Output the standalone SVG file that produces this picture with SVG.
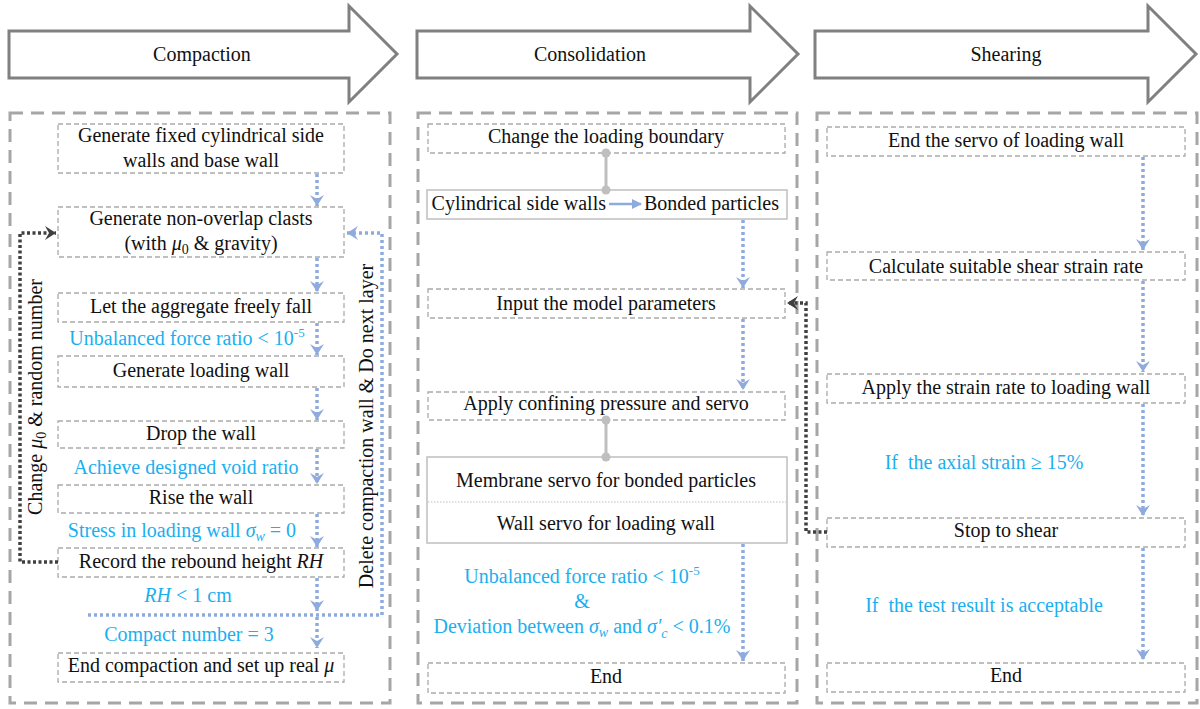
<svg xmlns="http://www.w3.org/2000/svg" width="1200" height="709" viewBox="0 0 1200 709" font-family="'Liberation Serif', 'Times New Roman', 'DejaVu Serif', serif">
<style>
.t{font-family:'Liberation Serif','Times New Roman','DejaVu Serif',serif;font-size:20px;fill:#111;text-anchor:middle}
.b{fill:#1AAFEF}
.i{font-style:italic}
.node{fill:#fff;stroke:#AAAAAA;stroke-width:1.3;stroke-dasharray:5 3}
.sbox{fill:#fff;stroke:#BFBFBF;stroke-width:1.5}
.panel{fill:none;stroke:#A6A6A6;stroke-width:3;stroke-dasharray:13 8}
.hdr{fill:#fff;stroke:#808080;stroke-width:3;stroke-linejoin:miter}
.ba{fill:none;stroke:#8FAADC;stroke-width:3.5;stroke-dasharray:3 3;marker-end:url(#bh)}
.da{fill:none;stroke:#404040;stroke-width:3.5;stroke-dasharray:3 2.5;marker-end:url(#dh)}
.gc{stroke:#BFBFBF;stroke-width:3}
.gd{fill:#BFBFBF}
</style>
<defs>
<marker id="bh" markerUnits="userSpaceOnUse" markerWidth="12" markerHeight="14" refX="11" refY="7" orient="auto" viewBox="0 0 12 14">
<path d="M0,0 L11,7 L0,14 L4,7 Z" fill="#8FAADC"/>
</marker>
<marker id="dh" markerUnits="userSpaceOnUse" markerWidth="12" markerHeight="14" refX="11" refY="7" orient="auto" viewBox="0 0 12 14">
<path d="M0,0 L11,7 L0,14 L4,7 Z" fill="#404040"/>
</marker>
<marker id="sh" markerUnits="userSpaceOnUse" markerWidth="10" markerHeight="10" refX="9" refY="5" orient="auto" viewBox="0 0 10 10">
<path d="M0,0 L10,5 L0,10 Z" fill="#8FAADC"/>
</marker>
</defs>

<!-- headers -->
<g id="hdr-compaction">
<polygon class="hdr" points="9,31 349,31 349,6 397,54 349,102 349,78 9,78"/>
<text class="t" x="202" y="61">Compaction</text>
</g>
<g id="hdr-consolidation">
<polygon class="hdr" points="417,31 750,31 750,6 798,54 750,102 750,78 417,78"/>
<text class="t" x="590" y="61">Consolidation</text>
</g>
<g id="hdr-shearing">
<polygon class="hdr" points="815,31 1148,31 1148,6 1196,54 1148,102 1148,78 815,78"/>
<text class="t" x="1006" y="61">Shearing</text>
</g>

<!-- panels -->
<rect id="panel-compaction" class="panel" x="10" y="113" width="380" height="590"/>
<rect id="panel-consolidation" class="panel" x="418" y="113" width="379" height="590"/>
<rect id="panel-shearing" class="panel" x="817" y="113" width="380" height="590"/>

<!-- compaction nodes -->
<g id="n-gen-walls">
<rect class="node" x="58" y="124" width="286" height="49"/>
<text class="t" x="201" y="142">Generate fixed cylindrical side</text>
<text class="t" x="201" y="167">walls and base wall</text>
</g>
<g id="n-gen-clasts">
<rect class="node" x="58" y="207" width="286" height="50"/>
<text class="t" x="201" y="225">Generate non-overlap clasts</text>
<text class="t" x="201" y="250">(with <tspan class="i">μ</tspan><tspan font-size="14" dy="4">0</tspan><tspan dy="-4"> &amp; gravity)</tspan></text>
</g>
<g id="n-fall">
<rect class="node" x="58" y="293" width="286" height="29"/>
<text class="t" x="201" y="313">Let the aggregate freely fall</text>
</g>
<text id="l-unbal1" class="t b" x="187" y="345">Unbalanced force ratio &lt; 10<tspan font-size="13" dy="-8">-5</tspan></text>
<g id="n-gen-loadwall">
<rect class="node" x="58" y="356" width="286" height="31"/>
<text class="t" x="201" y="377">Generate loading wall</text>
</g>
<g id="n-drop">
<rect class="node" x="58" y="421" width="286" height="27"/>
<text class="t" x="201" y="440">Drop the wall</text>
</g>
<text id="l-void" class="t b" x="186" y="474">Achieve designed void ratio</text>
<g id="n-rise">
<rect class="node" x="58" y="485" width="286" height="28"/>
<text class="t" x="201" y="504">Rise the wall</text>
</g>
<text id="l-stress" class="t b" x="182" y="537">Stress in loading wall <tspan class="i">σ</tspan><tspan class="i" font-size="14" dy="4">w</tspan><tspan dy="-4"> = 0</tspan></text>
<g id="n-record">
<rect class="node" x="58" y="548" width="286" height="29"/>
<text class="t" x="201" y="568">Record the rebound height <tspan class="i">RH</tspan></text>
</g>
<text id="l-rh" class="t b" x="188" y="602"><tspan class="i">RH</tspan> &lt; 1 cm</text>
<text id="l-compact" class="t b" x="189" y="641">Compact number = 3</text>
<g id="n-end-compaction">
<rect class="node" x="58" y="653" width="286" height="29"/>
<text class="t" x="201" y="672">End compaction and set up real <tspan class="i">μ</tspan></text>
</g>
<text id="l-change" class="t" transform="translate(42,397) rotate(-90)" x="0" y="0">Change <tspan class="i">μ</tspan><tspan font-size="14" dy="4">0</tspan><tspan dy="-4"> &amp; random number</tspan></text>
<text id="l-delete" class="t" transform="translate(373,426) rotate(-90)" x="0" y="0">Delete compaction wall &amp; Do next layer</text>

<!-- consolidation nodes -->
<g id="n-change-boundary">
<rect class="node" x="428" y="124" width="357" height="29"/>
<text class="t" x="606" y="143">Change the loading boundary</text>
</g>
<g id="n-cyl-bonded">
<rect class="sbox" x="427" y="190" width="360" height="29"/>
<text class="t" x="606" y="210" style="text-anchor:end">Cylindrical side walls</text>
<text class="t" x="644" y="210" style="text-anchor:start">Bonded particles</text>
</g>
<g id="n-input">
<rect class="node" x="428" y="289" width="357" height="29"/>
<text class="t" x="606" y="310">Input the model parameters</text>
</g>
<g id="n-apply-confining">
<rect class="node" x="428" y="392" width="357" height="28"/>
<text class="t" x="606" y="410">Apply confining pressure and servo</text>
</g>
<g id="n-servo">
<rect class="sbox" x="427" y="457" width="360" height="86"/>
<line x1="428" y1="502" x2="786" y2="502" stroke="#BFBFBF" stroke-width="1" stroke-dasharray="1.5 1.5"/>
<text class="t" x="606" y="487">Membrane servo for bonded particles</text>
<text class="t" x="606" y="530">Wall servo for loading wall</text>
</g>
<g id="l-consol-cond">
<text class="t b" x="582" y="583">Unbalanced force ratio &lt; 10<tspan font-size="13" dy="-8">-5</tspan></text>
<text class="t b" x="582" y="608">&amp;</text>
<text class="t b" x="582" y="633">Deviation between <tspan class="i">σ</tspan><tspan class="i" font-size="14" dy="4">w</tspan><tspan dy="-4"> and </tspan><tspan class="i">σ′</tspan><tspan class="i" font-size="14" dy="5">c</tspan><tspan dy="-5"> &lt; 0.1%</tspan></text>
</g>
<g id="n-end-consol">
<rect class="node" x="428" y="663" width="357" height="30"/>
<text class="t" x="606" y="683">End</text>
</g>

<!-- shearing nodes -->
<g id="n-end-servo">
<rect class="node" x="827" y="127" width="358" height="29"/>
<text class="t" x="1006" y="147">End the servo of loading wall</text>
</g>
<g id="n-calc">
<rect class="node" x="827" y="252" width="358" height="28"/>
<text class="t" x="1006" y="273">Calculate suitable shear strain rate</text>
</g>
<g id="n-apply-strain">
<rect class="node" x="827" y="374" width="358" height="29"/>
<text class="t" x="1006" y="394">Apply the strain rate to loading wall</text>
</g>
<text id="l-axial" class="t b" x="984" y="469" xml:space="preserve">If  the axial strain ≥ 15%</text>
<g id="n-stop">
<rect class="node" x="827" y="518" width="358" height="29"/>
<text class="t" x="1006" y="537">Stop to shear</text>
</g>
<text id="l-accept" class="t b" x="984" y="612" xml:space="preserve">If  the test result is acceptable</text>
<g id="n-end-shear">
<rect class="node" x="827" y="663" width="358" height="29"/>
<text class="t" x="1006" y="682">End</text>
</g>

<!-- connectors -->
<g id="connectors">
<line class="ba" x1="317" y1="174" x2="317" y2="206"/>
<line class="ba" x1="317" y1="258" x2="317" y2="292"/>
<line class="ba" x1="317" y1="323" x2="317" y2="355"/>
<line class="ba" x1="317" y1="388" x2="317" y2="420"/>
<line class="ba" x1="317" y1="449" x2="317" y2="484"/>
<line class="ba" x1="317" y1="514" x2="317" y2="547"/>
<line class="ba" x1="317" y1="578" x2="317" y2="611"/>
<line class="ba" x1="317" y1="617" x2="317" y2="648"/>
<path class="ba" d="M88,615 H382 V233 H347"/>
<path class="da" d="M58,562 H20 V233 H56"/>

<line class="gc" x1="606" y1="153" x2="606" y2="190"/>
<circle class="gd" cx="606" cy="153" r="4.5"/>
<circle class="gd" cx="606" cy="190" r="4.5"/>
<line class="gc" x1="606" y1="420" x2="606" y2="457"/>
<circle class="gd" cx="606" cy="420" r="4.5"/>
<circle class="gd" cx="606" cy="457" r="4.5"/>
<line x1="609" y1="204" x2="641" y2="204" stroke="#8FAADC" stroke-width="2.5" marker-end="url(#sh)"/>
<line class="ba" x1="743" y1="220" x2="743" y2="288"/>
<line class="ba" x1="743" y1="319" x2="743" y2="390"/>
<line class="ba" x1="743" y1="544" x2="743" y2="661"/>
<path class="da" d="M827,532 H806 V303 H787"/>

<line class="ba" x1="1143" y1="157" x2="1143" y2="250"/>
<line class="ba" x1="1143" y1="281" x2="1143" y2="372"/>
<line class="ba" x1="1143" y1="404" x2="1143" y2="516"/>
<line class="ba" x1="1143" y1="548" x2="1143" y2="660"/>
</g>
</svg>
